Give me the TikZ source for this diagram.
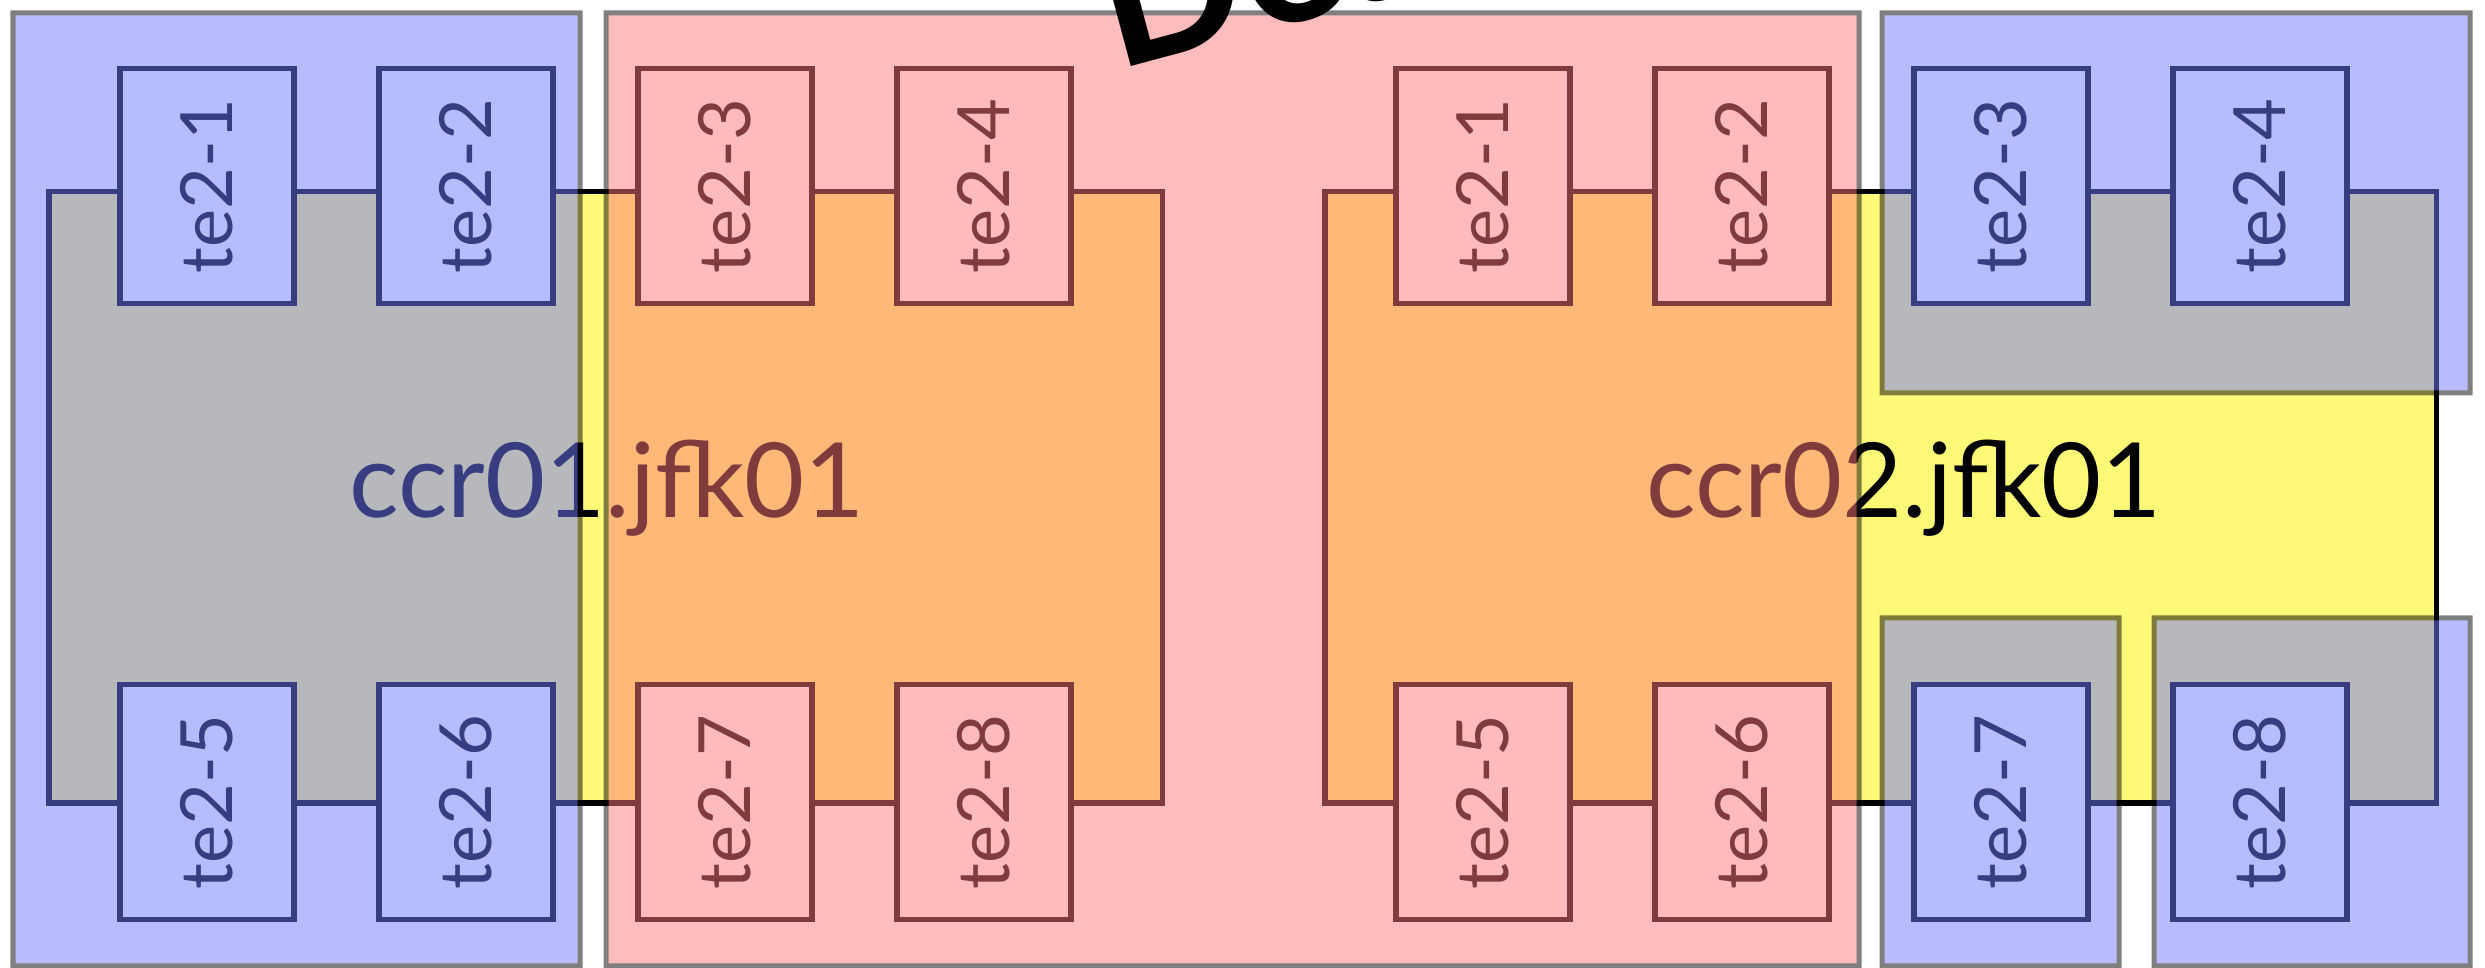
\documentclass[tikz,border=0pt]{standalone}
\usepackage{fontspec}
\setmainfont{Lato}
\definecolor{rtr-yellow}{HTML}{FFF978}
\definecolor{zone-blue}{HTML}{7179FF}
\definecolor{zone-red}{HTML}{FF7979}

\begin{document}
\begin{tikzpicture}[x=0.01cm, y=-0.01cm,
      router/.style={draw=black, fill=rtr-yellow, line width=0.055cm,
        inner sep=0pt, anchor=north west},
      port/.style={draw=black, fill=white, line width=0.055cm, rotate=90,
        minimum width=2.35cm, minimum height=1.74cm, inner sep=0pt,
        font=\fontsize{20.5}{24}\selectfont},
      rtrlab/.style={inner sep=0pt, anchor=base,
        font=\fontsize{29.5}{34}\selectfont},
      zone/.style={draw=black, line width=0.05cm}]
    \useasboundingbox (0,0) rectangle (2485,968);
    % the two routers
    \node[router, minimum width=11.13cm, minimum height=6.11cm] (r1) at (46,189) {};
    \node[router, minimum width=11.11cm, minimum height=6.11cm] (r2) at (1322,189) {};
    % ports, 1-4 on top edge, 5-8 on bottom edge
    \foreach \r/\x in {1/46, 2/1322} {
      \foreach \i in {0,...,3} {
        \pgfmathtruncatemacro{\top}{\i+1}
        \pgfmathtruncatemacro{\bot}{\i+5}
        \node[port] (r\r te\top) at ({\x+161+\i*259},186) {te2-\top};
        \node[port] (r\r te\bot) at ({\x+161+\i*259},802) {te2-\bot};
      }
    }
    \node[rtrlab] (r1lab) at (607,518) {ccr01.jfk01};
    \node[rtrlab] (r2lab) at (1904,518) {ccr02.jfk01};
    % shaded zones on top
    \begin{scope}[transparency group, opacity=0.5]
      \draw[zone, fill=zone-blue] (13,13) rectangle (580,966);
      \draw[zone, fill=zone-red] (606,13) rectangle (1859,966);
      \draw[zone, fill=zone-blue] (1882,13) rectangle (2470,393);
      \draw[zone, fill=zone-blue] (1882,618) rectangle (2119,966);
      \draw[zone, fill=zone-blue] (2154,618) rectangle (2470,966);
    \end{scope}
    \node[rotate=15, anchor=base west, inner sep=0pt,
          font=\fontsize{54}{64}\selectfont\bfseries] (dead) at (1116,71) {Dead};
  \end{tikzpicture}
\end{document}
